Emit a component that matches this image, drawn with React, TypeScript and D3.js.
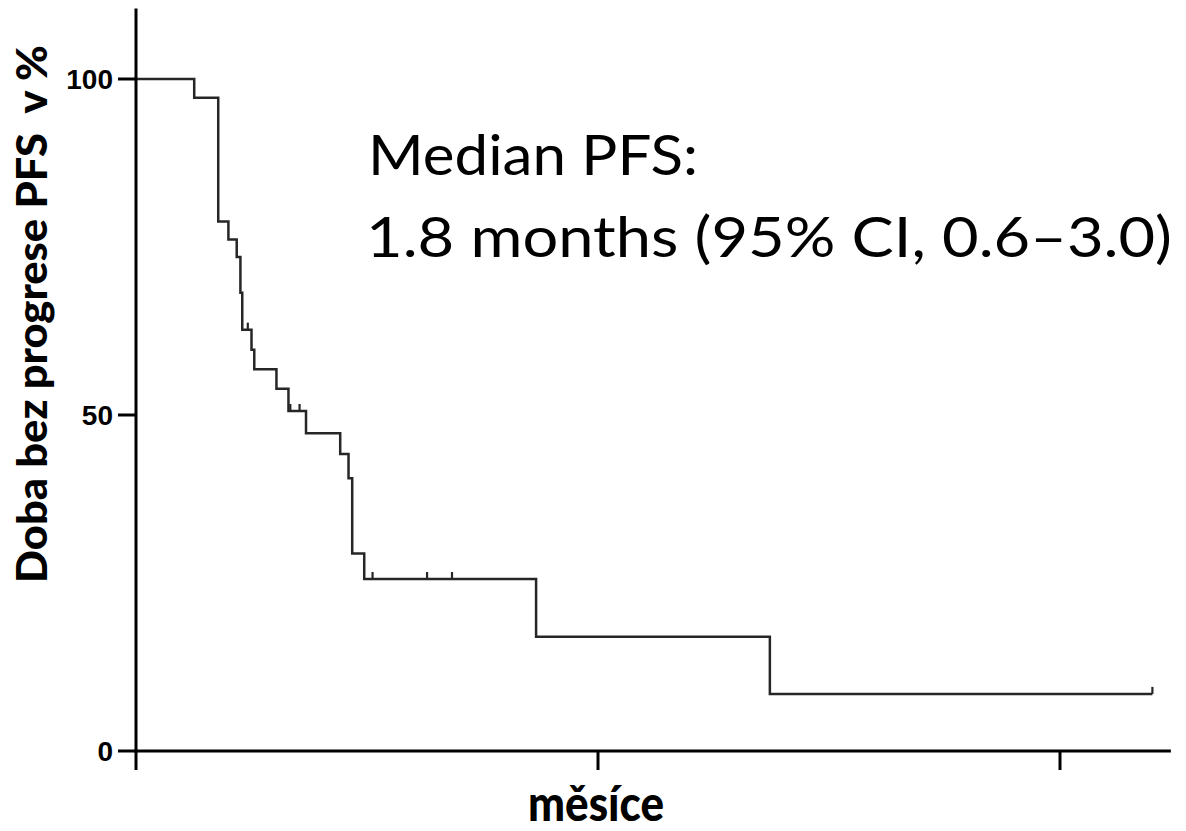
import React from "react";
import * as d3 from "d3";

// Kaplan–Meier progression-free survival (months, % without progression)
const eventMonths = [0.63, 0.89, 1.0, 1.09, 1.13, 1.15, 1.25, 1.28, 1.52, 1.65, 1.84, 2.21, 2.3, 2.34, 2.47, 4.33, 6.86];
const survivalPct = [97.2, 78.8, 76.1, 73.5, 68.2, 62.7, 59.7, 56.8, 53.9, 50.6, 47.3, 44.2, 40.6, 29.4, 25.6, 17.0, 8.5];
const censorMonths = [1.21, 1.67, 1.77, 2.56, 3.15, 3.42, 11.0];

const yTicks = [0, 50, 100];
const xTicks = [0, 5, 10];

const medianLine1 = "Median PFS:";
const medianLine2 = "1.8 months (95% CI, 0.6\u20133.0)";
const yTitle = "Doba bez progrese PFS  v %";
const xTitle = "m\u011bs\u00edce";

const W = 1186;
const H = 831;

function survivalAt(t: number): number {
  let s = 100;
  eventMonths.forEach((e, i) => {
    if (e <= t) s = survivalPct[i];
  });
  return s;
}

export default function App() {
  const x = d3.scaleLinear().domain([0, 11.2]).range([136, 136 + 11.2 * 92.4]);
  const y = d3.scaleLinear().domain([0, 100]).range([751, 79]);

  const lastT = d3.max(censorMonths) as number;
  const pts: [number, number][] = [[0, 100]];
  eventMonths.forEach((t, i) => pts.push([t, survivalPct[i]]));
  pts.push([lastT, survivalAt(lastT)]);

  const step = d3
    .line<[number, number]>()
    .x((d) => x(d[0]))
    .y((d) => y(d[1]))
    .curve(d3.curveStepAfter);

  const x0 = x(0);
  const y0 = y(0);
  const axisTop = y(110.5);
  const xEnd = x.range()[1];

  return (
    <svg
      width={W}
      height={H}
      style={{ position: "absolute", left: 0, top: 0, background: "#fff" }}
    >
      {/* survival curve */}
      <path d={step(pts) || ""} fill="none" stroke="#262626" strokeWidth={2.5} />
      {censorMonths.map((t, i) => (
        <line
          key={"c" + i}
          x1={x(t)}
          x2={x(t)}
          y1={y(survivalAt(t))}
          y2={y(survivalAt(t)) - 7}
          stroke="#262626"
          strokeWidth={2.2}
        />
      ))}

      {/* axes */}
      <line x1={x0} x2={x0} y1={axisTop} y2={y0 + 1.5} stroke="#000" strokeWidth={3} />
      <line x1={x0 - 1.5} x2={xEnd} y1={y0} y2={y0} stroke="#000" strokeWidth={3} />
      {yTicks.map((v) => (
        <g key={"y" + v}>
          <line x1={118} x2={x0} y1={y(v)} y2={y(v)} stroke="#000" strokeWidth={3} />
          <text
            x={113}
            y={y(v)}
            dy="0.37em"
            textAnchor="end"
            fontFamily="Liberation Sans, Arial, sans-serif"
            fontWeight="bold"
            fontSize={28}
            fill="#000"
          >
            {v}
          </text>
        </g>
      ))}
      {xTicks.map((v) => (
        <line key={"x" + v} x1={x(v)} x2={x(v)} y1={y0} y2={y0 + 19} stroke="#000" strokeWidth={3} />
      ))}

      {/* titles */}
      <text
        transform={`translate(47, 314) rotate(-90)`}
        textAnchor="middle"
        fontFamily="Lato, sans-serif"
        fontWeight="900"
        fontSize={42}
        textLength={538}
        lengthAdjust="spacingAndGlyphs"
        style={{ whiteSpace: "pre" }}
        fill="#000"
      >
        {yTitle}
      </text>
      <text
        x={596}
        y={821}
        textAnchor="middle"
        fontFamily="Lato, sans-serif"
        fontWeight="900"
        fontSize={50}
        textLength={136}
        lengthAdjust="spacingAndGlyphs"
        fill="#000"
      >
        {xTitle}
      </text>

      {/* median annotation */}
      <text
        x={368}
        y={175}
        fontFamily="Lato, sans-serif"
        fontSize={57}
        textLength={330}
        lengthAdjust="spacingAndGlyphs"
        fill="#000"
      >
        {medianLine1}
      </text>
      <text
        x={366}
        y={257}
        fontFamily="Lato, sans-serif"
        fontSize={57}
        textLength={806}
        lengthAdjust="spacingAndGlyphs"
        fill="#000"
      >
        {medianLine2}
      </text>
    </svg>
  );
}
